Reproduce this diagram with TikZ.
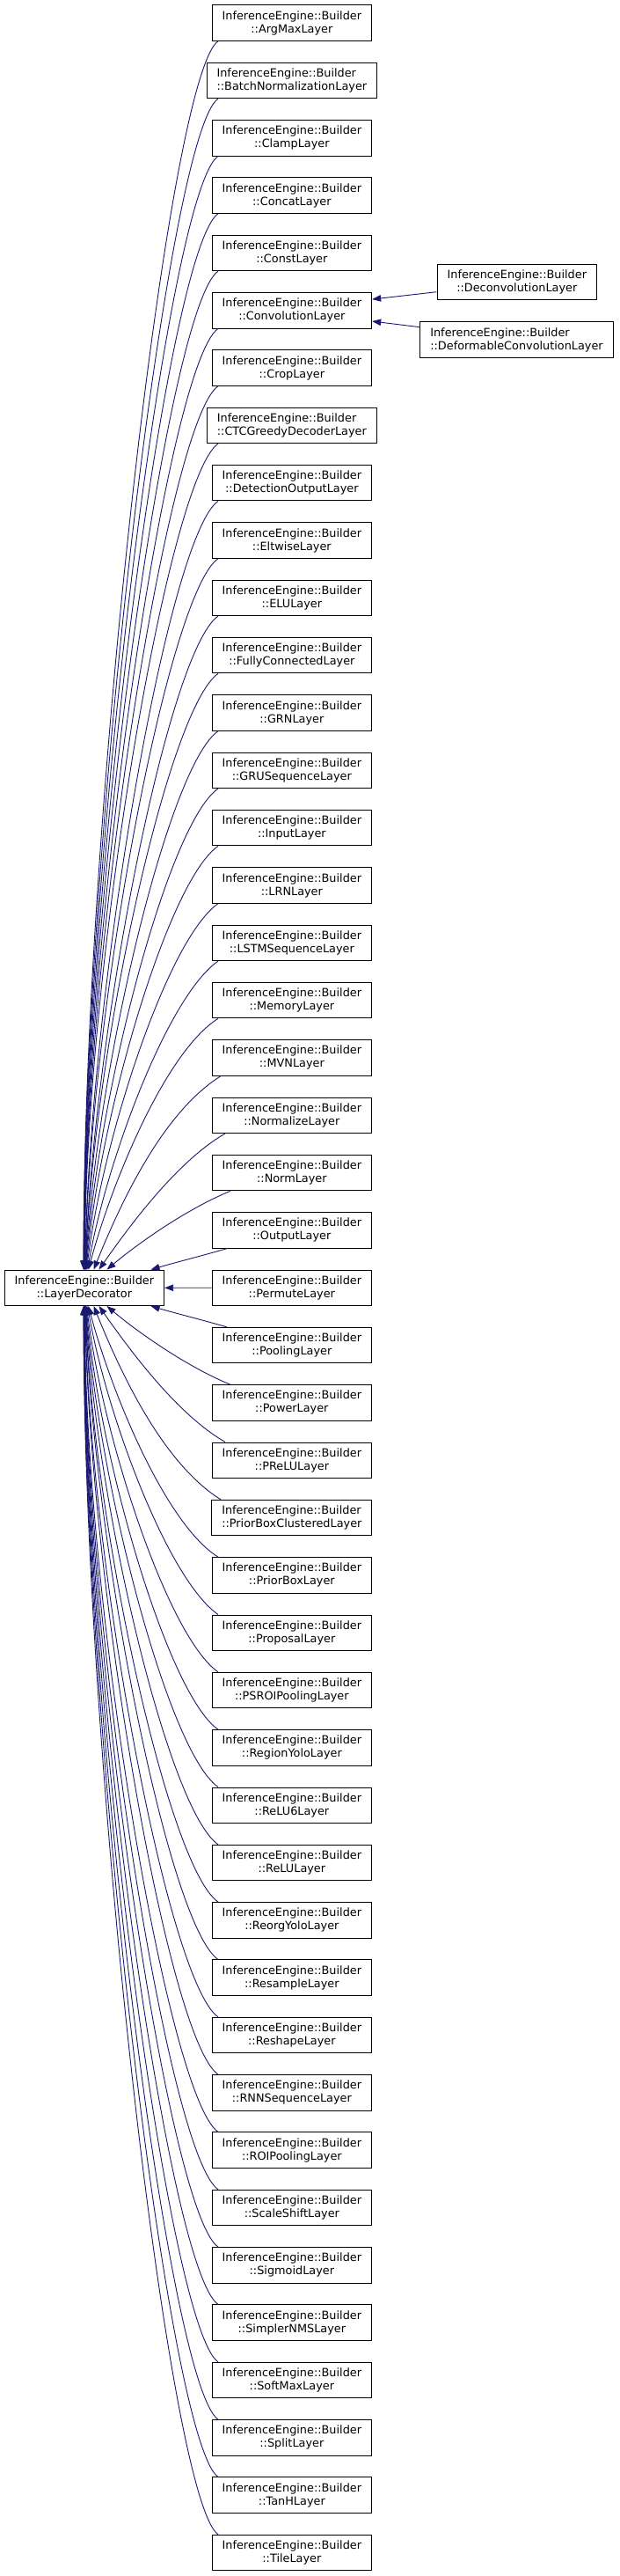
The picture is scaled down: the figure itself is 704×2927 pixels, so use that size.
\documentclass[tikz,border=0pt]{standalone}
\usepackage{fontspec}
\setmainfont{DejaVu Sans}
\usetikzlibrary{arrows.meta,calc}
\definecolor{edgeblue}{HTML}{191970}
\newcommand\clslbl[1]{%
  \setbox0=\hbox{InferenceEngine::Builder}%
  \setbox2=\hbox{::#1}%
  \ifdim\wd0>\wd2 \dimen0=\wd0 \else \dimen0=\wd2 \fi
  \vbox{\baselineskip=15pt\lineskiplimit=-10pt
    \hbox to\dimen0{\unhbox0\hss}%
    \hbox to\dimen0{\hss\unhbox2\hss}}}
\begin{document}
\begin{tikzpicture}[x=1pt,y=1pt,
  cls/.style={draw=black, line width=0.9pt, fill=white, minimum width=181.7pt,
    minimum height=40.6pt, inner xsep=11.5pt, inner ysep=0pt,
    font=\fontsize{12.84}{15}\selectfont},
  edge/.style={draw=edgeblue, line width=0.9pt,
    -{Triangle[length=10pt,width=7.5pt,fill=edgeblue]}}]
\fill[white] (0,0) rectangle (704,-2927);
\useasboundingbox (0,0) rectangle (704,-2927);
\foreach \nm [count=\i from 0] in {ArgMaxLayer,BatchNormalizationLayer,ClampLayer,ConcatLayer,ConstLayer,ConvolutionLayer,CropLayer,CTCGreedyDecoderLayer,DetectionOutputLayer,EltwiseLayer,ELULayer,FullyConnectedLayer,GRNLayer,GRUSequenceLayer,InputLayer,LRNLayer,LSTMSequenceLayer,MemoryLayer,MVNLayer,NormalizeLayer,NormLayer,OutputLayer,PermuteLayer,PoolingLayer,PowerLayer,PReLULayer,PriorBoxClusteredLayer,PriorBoxLayer,ProposalLayer,PSROIPoolingLayer,RegionYoloLayer,ReLU6Layer,ReLULayer,ReorgYoloLayer,ResampleLayer,ReshapeLayer,RNNSequenceLayer,ROIPoolingLayer,ScaleShiftLayer,SigmoidLayer,SimplerNMSLayer,SoftMaxLayer,SplitLayer,TanHLayer,TileLayer}
  \node[cls] (n\i) at (331.85,{-26-65.33*\i}) {\clslbl{\nm}};
\node[cls] (ld) at (95.85,-1463.3) {\clslbl{LayerDecorator}};
\node[cls] (dc) at (587.8,-320.5) {\clslbl{DeconvolutionLayer}};
\node[cls] (df) at (587.5,-386) {\clslbl{DeformableConvolutionLayer}};
\coordinate (sx) at (248,0);
\foreach \d/\dx/\tx/\ao/\lo/\ai/\li in {
  1/10/172/196/30/16/30, 2/14/122/202/50/40/50, 3/8/113/210/60/55/70,
  4/3/107/212/75/68/90, 5/0/101/212/70/75/103, 6/0/100/215/70/80/126,
  7/0/99/215/70/83/150, 8/0/98.5/215/70/85/173, 9/0/98/215/70/86/197,
  10/0/97.8/215/70/87/220, 11/0/97.6/215/70/88/244, 12/0/97.4/215/70/88/267,
  13/0/97.2/215/70/89/291, 14/0/97/215/70/89/315, 15/0/96.8/215/70/90/338,
  16/0/96.6/215/70/90/362, 17/0/96.4/215/70/90/385, 18/0/96.2/215/70/90/409,
  19/0/96/215/70/90/432, 20/0/95.8/215/70/90/456, 21/0/95.6/215/70/90/479,
  22/0/95.4/215/70/90/503}{
  \pgfmathtruncatemacro\iu{22-\d}
  \pgfmathtruncatemacro\il{22+\d}
  \draw[edge] ($(n\iu.south -| sx)+(\dx,0)$) .. controls +(\ao:\lo) and +(\ai:\li) .. ($(ld.north west)+(\tx-5,0)$);
  \draw[edge] ($(n\il.north -| sx)+(\dx,0)$) .. controls +({360-\ao}:\lo) and +({-\ai}:\li) .. ($(ld.south west)+(\tx-5,0)$);
}
\draw[edge] (n22) -- (ld);
\draw[edge] ([yshift=-11.2pt]dc.west) -- ([yshift=12.6pt]n5.east);
\draw[edge] ([yshift=14.3pt]df.west) -- ([yshift=-12.4pt]n5.east);
\end{tikzpicture}
\end{document}
